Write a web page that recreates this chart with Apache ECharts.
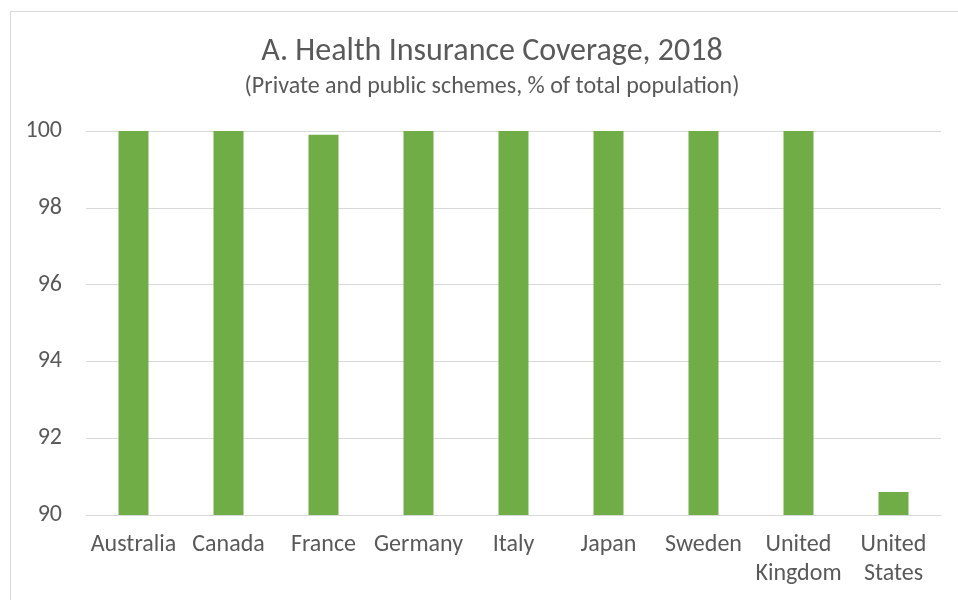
<!DOCTYPE html>
<html>
<head>
<meta charset="utf-8">
<script src="https://cdn.jsdelivr.net/npm/echarts@6/dist/echarts.min.js"></script>
<style>html,body{margin:0;padding:0;background:#fff}#c{width:958px;height:600px}</style>
</head>
<body>
<div id="c"></div>
<script>
var categories = ["Australia", "Canada", "France", "Germany", "Italy", "Japan", "Sweden", "United\nKingdom", "United\nStates"];
var coverage = [100, 100, 99.9, 100, 100, 100, 100, 100, 90.6];
var yTicks = [90, 92, 94, 96, 98, 100];

var FONT = "Carlito, Calibri, 'Open Sans', sans-serif";
var chart = echarts.init(document.getElementById('c'), null, {renderer: 'canvas'});
chart.setOption({
  animation: false,
  backgroundColor: '#fff',
  graphic: [{
    type: 'rect', left: 8, top: 9, silent: true,
    shape: {x: 0, y: 0, width: 1000, height: 700},
    style: {fill: 'none', stroke: '#D9D9D9', lineWidth: 1}
  }],
  title: {
    text: 'A. Health Insurance Coverage, 2018',
    subtext: '(Private and public schemes, % of total population)',
    left: 487, top: 29, textAlign: 'center', itemGap: 3,
    textStyle: {fontFamily: FONT, fontSize: 32, fontWeight: 'normal', color: '#595959', lineHeight: 36},
    subtextStyle: {fontFamily: FONT, fontSize: 24, color: '#595959', lineHeight: 28}
  },
  grid: {left: 86, right: 17, top: 131, bottom: 85},
  xAxis: {
    type: 'category', data: categories,
    axisLine: {lineStyle: {color: '#D9D9D9', width: 1}},
    axisTick: {show: false},
    axisLabel: {fontFamily: FONT, fontSize: 24, color: '#595959', margin: 15, lineHeight: 29, interval: 0}
  },
  yAxis: {
    type: 'value', min: yTicks[0], max: yTicks[yTicks.length - 1], interval: 2,
    axisLine: {show: false}, axisTick: {show: false},
    splitLine: {lineStyle: {color: '#D9D9D9', width: 1}},
    axisLabel: {fontFamily: FONT, fontSize: 24, color: '#595959', margin: 24}
  },
  series: [{
    type: 'bar', data: coverage, barWidth: 30,
    itemStyle: {color: '#70AD47'}
  }]
});
</script>
</body>
</html>
